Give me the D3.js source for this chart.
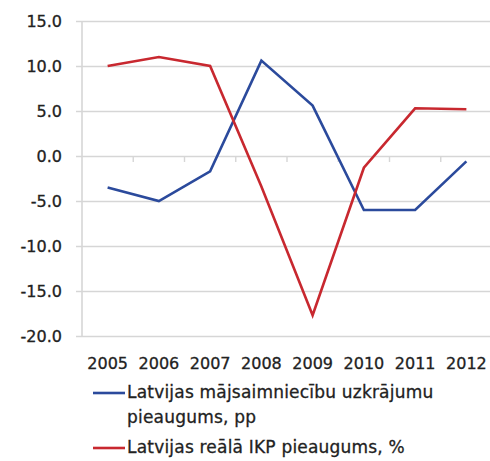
<!DOCTYPE html>
<html>
<head>
<meta charset="utf-8">
<script src="https://cdn.jsdelivr.net/npm/d3@7"></script>
<style>
  html, body { margin: 0; padding: 0; background: #fff; }
  svg { display: block; }
  text { font-family: "DejaVu Sans", Verdana, sans-serif; fill: #222; stroke: #222; stroke-width: 0.3px; }
</style>
</head>
<body>
<svg id="chart" width="490" height="461"></svg>
<script>
// Years on the category axis
const years = ["2005", "2006", "2007", "2008", "2009", "2010", "2011", "2012"];
// Household savings growth, pp
const savings = [-3.5, -5.0, -1.7, 10.6, 5.6, -6.0, -6.0, -0.6];
// Real GDP growth, %
const gdp = [10.0, 11.0, 10.0, -3.4, -17.7, -1.3, 5.3, 5.2];
// Value axis ticks
const yTicks = [15, 10, 5, 0, -5, -10, -15, -20];
// Legend entries
const legendItems = [
  { lines: ["Latvijas mājsaimniecību uzkrājumu", "pieaugums, pp"], color: "#2b4a9c" },
  { lines: ["Latvijas reālā IKP pieaugums, %"], color: "#c8282f" }
];
const seriesList = [
  { values: savings, color: "#2b4a9c" },
  { values: gdp, color: "#c8282f" }
];

const svg = d3.select("#chart");

const x = d3.scaleBand().domain(years).range([82, 492]);
const y = d3.scaleLinear().domain([-20, 15]).range([336, 21]);

// Plain hyphen for negatives, one decimal
const fmt = d => d.toFixed(1);

// Horizontal gridlines with short ticks left of the value axis
const yAxis = d3.axisLeft(y)
  .tickValues(yTicks)
  .tickSize(-410)
  .tickSizeOuter(0)
  .tickPadding(20)
  .tickFormat(fmt);

const gy = svg.append("g")
  .attr("transform", "translate(82,0)")
  .call(yAxis);
gy.select(".domain").remove();
gy.selectAll(".tick line")
  .attr("x1", -6)
  .attr("stroke", "#d6d6d6")
  .attr("stroke-width", 1.6);
gy.selectAll(".tick text")
  .attr("x", -20)
  .style("font-size", "16px")
  .style("font-family", "'DejaVu Sans', Verdana, sans-serif")
  .attr("fill", "#222");

// Vertical value axis line
svg.append("line")
  .attr("x1", 82).attr("x2", 82)
  .attr("y1", y(15)).attr("y2", y(-20))
  .attr("stroke", "#d6d6d6")
  .attr("stroke-width", 1.6);

// Category axis sitting on zero, tick marks at band edges
const edges = years.map(d => x(d)).concat([x(years[years.length - 1]) + x.bandwidth()]);
svg.append("g")
  .selectAll("line")
  .data(edges.slice(1))
  .join("line")
  .attr("x1", d => d).attr("x2", d => d)
  .attr("y1", y(0)).attr("y2", y(0) + 6)
  .attr("stroke", "#d6d6d6")
  .attr("stroke-width", 1.4);

// Category labels below the plot
svg.append("g")
  .selectAll("text")
  .data(years)
  .join("text")
  .attr("x", d => x(d) + x.bandwidth() / 2)
  .attr("y", 369)
  .attr("text-anchor", "middle")
  .style("font-size", "16px")
  .text(d => d);

// Series lines
const line = d3.line()
  .x((d, i) => x(years[i]) + x.bandwidth() / 2)
  .y(d => y(d));

svg.append("g")
  .selectAll("path")
  .data(seriesList)
  .join("path")
  .attr("d", s => line(s.values))
  .attr("fill", "none")
  .attr("stroke", s => s.color)
  .attr("stroke-width", 2.6)
  .attr("stroke-linejoin", "miter");

// Legend
const legendTops = [398, 453];
const lineH = 25;
legendItems.forEach((item, i) => {
  const base = legendTops[i];
  svg.append("line")
    .attr("x1", 93).attr("x2", 125)
    .attr("y1", base - 5).attr("y2", base - 5)
    .attr("stroke", item.color)
    .attr("stroke-width", 2.6);
  item.lines.forEach((t, j) => {
    svg.append("text")
      .attr("x", 127)
      .attr("y", base + j * lineH)
      .style("font-size", "17px")
      .style("letter-spacing", "0.2px")
      .text(t);
  });
});
</script>
</body>
</html>
